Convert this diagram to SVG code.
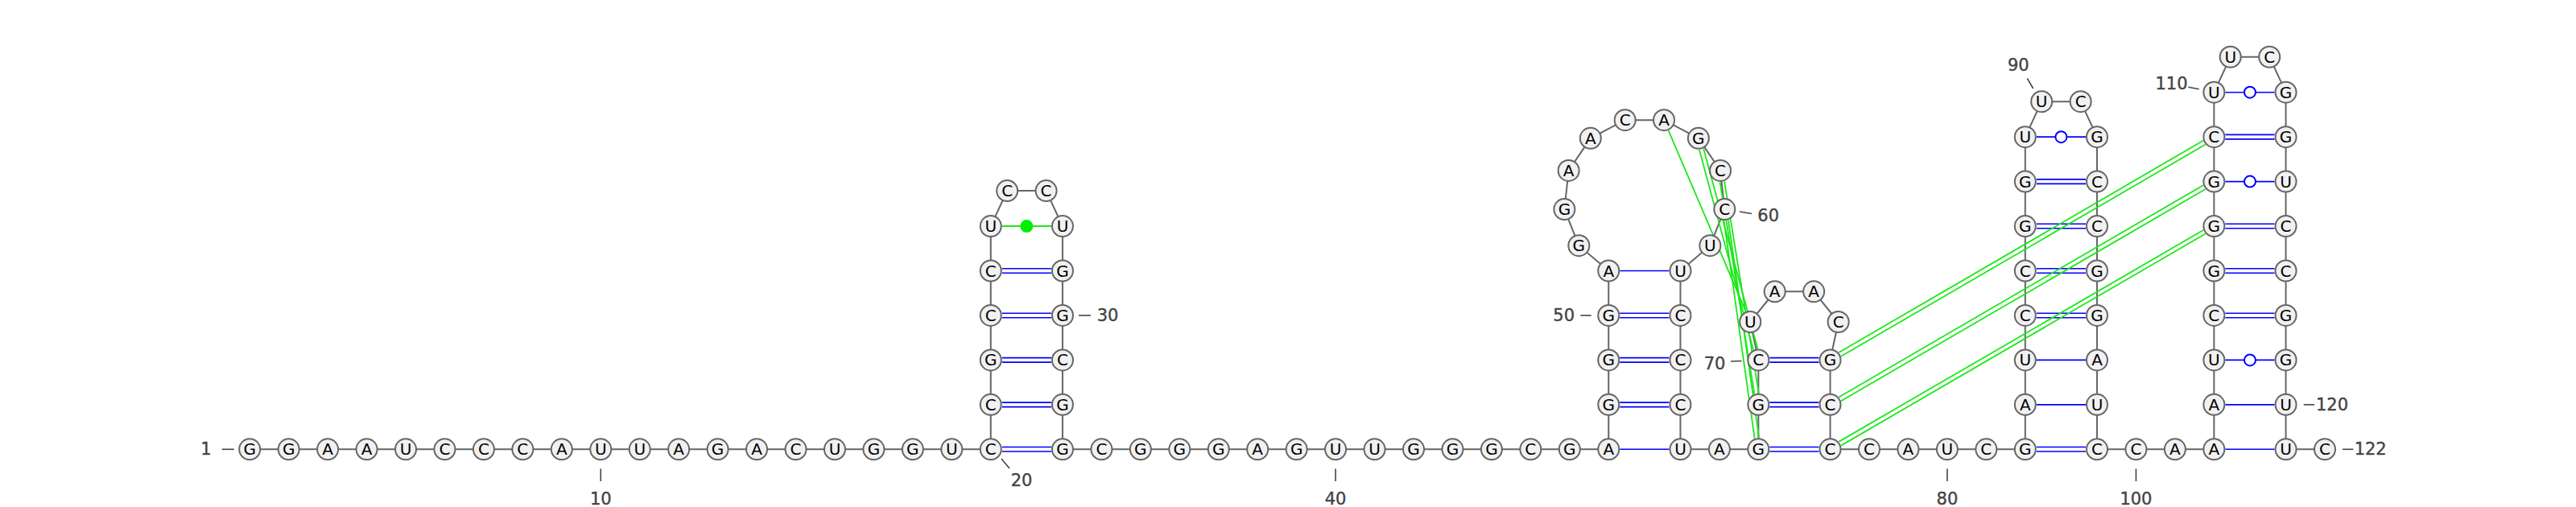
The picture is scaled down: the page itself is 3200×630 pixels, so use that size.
<svg xmlns="http://www.w3.org/2000/svg" width="3200" height="630" viewBox="0 0 3200 630">
<style>
.bb{fill:none;stroke:#666;stroke-width:2}
.bp{fill:none;stroke:#0000ff;stroke-width:1.6}
.wb{fill:#fff;stroke:#0000ff;stroke-width:2}
.tp{fill:none;stroke:#1be81b;stroke-width:1.8}
.nc{fill:#00ee00;stroke:none}
.nt circle{fill:#f1f1f1;stroke:#666;stroke-width:2}
.nt text{font-family:'DejaVu Sans',sans-serif;font-size:20px;text-anchor:middle;dominant-baseline:central;fill:#000}
.tk{stroke:#444;stroke-width:1.6}
.lb{font-family:'DejaVu Sans',sans-serif;font-size:21px;text-anchor:middle;dominant-baseline:central;fill:#444;stroke:#444;stroke-width:0.4}
</style>
<rect width="3200" height="630" fill="#fff"/>
<g id="connectors">
<polyline class="bb" points="310.2,558.3 358.65,558.3 407.1,558.3 455.55,558.3 504,558.3 552.45,558.3 600.9,558.3 649.35,558.3 697.8,558.3 746.25,558.3 794.7,558.3 843.15,558.3 891.6,558.3 940.05,558.3 988.5,558.3 1036.95,558.3 1085.4,558.3 1133.85,558.3 1182.3,558.3 1230.75,558.3 1230.75,502.85 1230.75,447.4 1230.75,391.95 1230.75,336.5 1230.75,281.05 1251.13,237.12 1299.58,237.12 1319.95,281.05 1319.95,336.5 1319.95,391.95 1319.95,447.4 1319.95,502.85 1319.95,558.3 1368.4,558.3 1416.85,558.3 1465.3,558.3 1513.75,558.3 1562.2,558.3 1610.65,558.3 1659.1,558.3 1707.55,558.3 1756,558.3 1804.45,558.3 1852.9,558.3 1901.35,558.3 1949.8,558.3 1998.25,558.3 1998.25,502.85 1998.25,447.4 1998.25,391.95 1998.25,336.5 1961.33,305.14 1943.39,260.11 1948.63,211.94 1975.83,171.84 2018.65,149.15 2067.05,149.15 2109.87,171.84 2137.07,211.94 2142.31,260.11 2124.37,305.14 2087.45,336.5 2087.45,391.95 2087.45,447.4 2087.45,502.85 2087.45,558.3 2135.9,558.3 2184.35,558.3 2184.35,502.85 2184.35,447.4 2174.24,400.02 2204.71,362.34 2253.19,362.34 2283.66,400.02 2273.55,447.4 2273.55,502.85 2273.55,558.3 2322,558.3 2370.45,558.3 2418.9,558.3 2467.35,558.3 2515.8,558.3 2515.8,502.85 2515.8,447.4 2515.8,391.95 2515.8,336.5 2515.8,281.05 2515.8,225.6 2515.8,170.15 2536.18,126.22 2584.63,126.22 2605,170.15 2605,225.6 2605,281.05 2605,336.5 2605,391.95 2605,447.4 2605,502.85 2605,558.3 2653.45,558.3 2701.9,558.3 2750.35,558.3 2750.35,502.85 2750.35,447.4 2750.35,391.95 2750.35,336.5 2750.35,281.05 2750.35,225.6 2750.35,170.15 2750.35,114.7 2770.73,70.77 2819.18,70.77 2839.55,114.7 2839.55,170.15 2839.55,225.6 2839.55,281.05 2839.55,336.5 2839.55,391.95 2839.55,447.4 2839.55,502.85 2839.55,558.3 2888,558.3"/>
<!-- stem 1 -->
<path class="bp" d="M1244.75 555.55H1305.95M1244.75 561.05H1305.95"/>
<path class="bp" d="M1244.75 500.1H1305.95M1244.75 505.6H1305.95"/>
<path class="bp" d="M1244.75 444.65H1305.95M1244.75 450.15H1305.95"/>
<path class="bp" d="M1244.75 389.2H1305.95M1244.75 394.7H1305.95"/>
<path class="bp" d="M1244.75 333.75H1305.95M1244.75 339.25H1305.95"/>
<path class="tp" d="M1244.75 281.05H1305.95" style="stroke-width:2"/>
<circle class="nc" cx="1275.35" cy="281.05" r="8"/>
<!-- stem 2 -->
<path class="bp" d="M2012.25 558.3H2073.45"/>
<path class="bp" d="M2012.25 500.1H2073.45M2012.25 505.6H2073.45"/>
<path class="bp" d="M2012.25 444.65H2073.45M2012.25 450.15H2073.45"/>
<path class="bp" d="M2012.25 389.2H2073.45M2012.25 394.7H2073.45"/>
<path class="bp" d="M2012.25 336.5H2073.45"/>
<!-- stem 3 -->
<path class="bp" d="M2198.35 555.55H2259.55M2198.35 561.05H2259.55"/>
<path class="bp" d="M2198.35 500.1H2259.55M2198.35 505.6H2259.55"/>
<path class="bp" d="M2198.35 444.65H2259.55M2198.35 450.15H2259.55"/>
<!-- stem 4 -->
<path class="bp" d="M2529.8 555.55H2591M2529.8 561.05H2591"/>
<path class="bp" d="M2529.8 502.85H2591"/>
<path class="bp" d="M2529.8 447.4H2591"/>
<path class="bp" d="M2529.8 389.2H2591M2529.8 394.7H2591"/>
<path class="bp" d="M2529.8 333.75H2591M2529.8 339.25H2591"/>
<path class="bp" d="M2529.8 278.3H2591M2529.8 283.8H2591"/>
<path class="bp" d="M2529.8 222.85H2591M2529.8 228.35H2591"/>
<path class="bp" d="M2529.8 170.15H2591"/>
<circle class="wb" cx="2560.4" cy="170.15" r="7"/>
<!-- stem 5 -->
<path class="bp" d="M2764.35 558.3H2825.55"/>
<path class="bp" d="M2764.35 502.85H2825.55"/>
<path class="bp" d="M2764.35 447.4H2825.55"/>
<circle class="wb" cx="2794.95" cy="447.4" r="7"/>
<path class="bp" d="M2764.35 389.2H2825.55M2764.35 394.7H2825.55"/>
<path class="bp" d="M2764.35 333.75H2825.55M2764.35 339.25H2825.55"/>
<path class="bp" d="M2764.35 278.3H2825.55M2764.35 283.8H2825.55"/>
<path class="bp" d="M2764.35 225.6H2825.55"/>
<circle class="wb" cx="2794.95" cy="225.6" r="7"/>
<path class="bp" d="M2764.35 167.4H2825.55M2764.35 172.9H2825.55"/>
<path class="bp" d="M2764.35 114.7H2825.55"/>
<circle class="wb" cx="2794.95" cy="114.7" r="7"/>
<!-- tertiary -->
<path class="tp" d="M2072.6 162.04L2168.74 387.14"/>
<path class="tp" d="M2116.22 184.68L2183.36 433.16M2110.91 186.12L2178.05 434.6"/>
<path class="tp" d="M2142.05 225.37L2184.82 488.59M2136.62 226.25L2179.39 489.47"/>
<path class="tp" d="M2146.99 273.64L2185.12 544.06M2141.54 274.41L2179.67 544.82"/>
<path class="tp" d="M2287.03 442.74L2739.63 179.57M2284.27 437.98L2736.87 174.81"/>
<path class="tp" d="M2287.03 498.19L2739.63 235.02M2284.27 493.43L2736.87 230.26"/>
<path class="tp" d="M2287.03 553.64L2739.63 290.47M2284.27 548.88L2736.87 286.09"/>
</g>
<g id="nodes">
<g id="n1" class="nt"><circle cx="310.2" cy="558.3" r="13"/><text x="310.2" y="558.3">G</text></g>
<g id="n2" class="nt"><circle cx="358.65" cy="558.3" r="13"/><text x="358.65" y="558.3">G</text></g>
<g id="n3" class="nt"><circle cx="407.1" cy="558.3" r="13"/><text x="407.1" y="558.3">A</text></g>
<g id="n4" class="nt"><circle cx="455.55" cy="558.3" r="13"/><text x="455.55" y="558.3">A</text></g>
<g id="n5" class="nt"><circle cx="504" cy="558.3" r="13"/><text x="504" y="558.3">U</text></g>
<g id="n6" class="nt"><circle cx="552.45" cy="558.3" r="13"/><text x="552.45" y="558.3">C</text></g>
<g id="n7" class="nt"><circle cx="600.9" cy="558.3" r="13"/><text x="600.9" y="558.3">C</text></g>
<g id="n8" class="nt"><circle cx="649.35" cy="558.3" r="13"/><text x="649.35" y="558.3">C</text></g>
<g id="n9" class="nt"><circle cx="697.8" cy="558.3" r="13"/><text x="697.8" y="558.3">A</text></g>
<g id="n10" class="nt"><circle cx="746.25" cy="558.3" r="13"/><text x="746.25" y="558.3">U</text></g>
<g id="n11" class="nt"><circle cx="794.7" cy="558.3" r="13"/><text x="794.7" y="558.3">U</text></g>
<g id="n12" class="nt"><circle cx="843.15" cy="558.3" r="13"/><text x="843.15" y="558.3">A</text></g>
<g id="n13" class="nt"><circle cx="891.6" cy="558.3" r="13"/><text x="891.6" y="558.3">G</text></g>
<g id="n14" class="nt"><circle cx="940.05" cy="558.3" r="13"/><text x="940.05" y="558.3">A</text></g>
<g id="n15" class="nt"><circle cx="988.5" cy="558.3" r="13"/><text x="988.5" y="558.3">C</text></g>
<g id="n16" class="nt"><circle cx="1036.95" cy="558.3" r="13"/><text x="1036.95" y="558.3">U</text></g>
<g id="n17" class="nt"><circle cx="1085.4" cy="558.3" r="13"/><text x="1085.4" y="558.3">G</text></g>
<g id="n18" class="nt"><circle cx="1133.85" cy="558.3" r="13"/><text x="1133.85" y="558.3">G</text></g>
<g id="n19" class="nt"><circle cx="1182.3" cy="558.3" r="13"/><text x="1182.3" y="558.3">U</text></g>
<g id="n20" class="nt"><circle cx="1230.75" cy="558.3" r="13"/><text x="1230.75" y="558.3">C</text></g>
<g id="n21" class="nt"><circle cx="1230.75" cy="502.85" r="13"/><text x="1230.75" y="502.85">C</text></g>
<g id="n22" class="nt"><circle cx="1230.75" cy="447.4" r="13"/><text x="1230.75" y="447.4">G</text></g>
<g id="n23" class="nt"><circle cx="1230.75" cy="391.95" r="13"/><text x="1230.75" y="391.95">C</text></g>
<g id="n24" class="nt"><circle cx="1230.75" cy="336.5" r="13"/><text x="1230.75" y="336.5">C</text></g>
<g id="n25" class="nt"><circle cx="1230.75" cy="281.05" r="13"/><text x="1230.75" y="281.05">U</text></g>
<g id="n26" class="nt"><circle cx="1251.13" cy="237.12" r="13"/><text x="1251.13" y="237.12">C</text></g>
<g id="n27" class="nt"><circle cx="1299.58" cy="237.12" r="13"/><text x="1299.58" y="237.12">C</text></g>
<g id="n28" class="nt"><circle cx="1319.95" cy="281.05" r="13"/><text x="1319.95" y="281.05">U</text></g>
<g id="n29" class="nt"><circle cx="1319.95" cy="336.5" r="13"/><text x="1319.95" y="336.5">G</text></g>
<g id="n30" class="nt"><circle cx="1319.95" cy="391.95" r="13"/><text x="1319.95" y="391.95">G</text></g>
<g id="n31" class="nt"><circle cx="1319.95" cy="447.4" r="13"/><text x="1319.95" y="447.4">C</text></g>
<g id="n32" class="nt"><circle cx="1319.95" cy="502.85" r="13"/><text x="1319.95" y="502.85">G</text></g>
<g id="n33" class="nt"><circle cx="1319.95" cy="558.3" r="13"/><text x="1319.95" y="558.3">G</text></g>
<g id="n34" class="nt"><circle cx="1368.4" cy="558.3" r="13"/><text x="1368.4" y="558.3">C</text></g>
<g id="n35" class="nt"><circle cx="1416.85" cy="558.3" r="13"/><text x="1416.85" y="558.3">G</text></g>
<g id="n36" class="nt"><circle cx="1465.3" cy="558.3" r="13"/><text x="1465.3" y="558.3">G</text></g>
<g id="n37" class="nt"><circle cx="1513.75" cy="558.3" r="13"/><text x="1513.75" y="558.3">G</text></g>
<g id="n38" class="nt"><circle cx="1562.2" cy="558.3" r="13"/><text x="1562.2" y="558.3">A</text></g>
<g id="n39" class="nt"><circle cx="1610.65" cy="558.3" r="13"/><text x="1610.65" y="558.3">G</text></g>
<g id="n40" class="nt"><circle cx="1659.1" cy="558.3" r="13"/><text x="1659.1" y="558.3">U</text></g>
<g id="n41" class="nt"><circle cx="1707.55" cy="558.3" r="13"/><text x="1707.55" y="558.3">U</text></g>
<g id="n42" class="nt"><circle cx="1756" cy="558.3" r="13"/><text x="1756" y="558.3">G</text></g>
<g id="n43" class="nt"><circle cx="1804.45" cy="558.3" r="13"/><text x="1804.45" y="558.3">G</text></g>
<g id="n44" class="nt"><circle cx="1852.9" cy="558.3" r="13"/><text x="1852.9" y="558.3">G</text></g>
<g id="n45" class="nt"><circle cx="1901.35" cy="558.3" r="13"/><text x="1901.35" y="558.3">C</text></g>
<g id="n46" class="nt"><circle cx="1949.8" cy="558.3" r="13"/><text x="1949.8" y="558.3">G</text></g>
<g id="n47" class="nt"><circle cx="1998.25" cy="558.3" r="13"/><text x="1998.25" y="558.3">A</text></g>
<g id="n48" class="nt"><circle cx="1998.25" cy="502.85" r="13"/><text x="1998.25" y="502.85">G</text></g>
<g id="n49" class="nt"><circle cx="1998.25" cy="447.4" r="13"/><text x="1998.25" y="447.4">G</text></g>
<g id="n50" class="nt"><circle cx="1998.25" cy="391.95" r="13"/><text x="1998.25" y="391.95">G</text></g>
<g id="n51" class="nt"><circle cx="1998.25" cy="336.5" r="13"/><text x="1998.25" y="336.5">A</text></g>
<g id="n52" class="nt"><circle cx="1961.33" cy="305.14" r="13"/><text x="1961.33" y="305.14">G</text></g>
<g id="n53" class="nt"><circle cx="1943.39" cy="260.11" r="13"/><text x="1943.39" y="260.11">G</text></g>
<g id="n54" class="nt"><circle cx="1948.63" cy="211.94" r="13"/><text x="1948.63" y="211.94">A</text></g>
<g id="n55" class="nt"><circle cx="1975.83" cy="171.84" r="13"/><text x="1975.83" y="171.84">A</text></g>
<g id="n56" class="nt"><circle cx="2018.65" cy="149.15" r="13"/><text x="2018.65" y="149.15">C</text></g>
<g id="n57" class="nt"><circle cx="2067.05" cy="149.15" r="13"/><text x="2067.05" y="149.15">A</text></g>
<g id="n58" class="nt"><circle cx="2109.87" cy="171.84" r="13"/><text x="2109.87" y="171.84">G</text></g>
<g id="n59" class="nt"><circle cx="2137.07" cy="211.94" r="13"/><text x="2137.07" y="211.94">C</text></g>
<g id="n60" class="nt"><circle cx="2142.31" cy="260.11" r="13"/><text x="2142.31" y="260.11">C</text></g>
<g id="n61" class="nt"><circle cx="2124.37" cy="305.14" r="13"/><text x="2124.37" y="305.14">U</text></g>
<g id="n62" class="nt"><circle cx="2087.45" cy="336.5" r="13"/><text x="2087.45" y="336.5">U</text></g>
<g id="n63" class="nt"><circle cx="2087.45" cy="391.95" r="13"/><text x="2087.45" y="391.95">C</text></g>
<g id="n64" class="nt"><circle cx="2087.45" cy="447.4" r="13"/><text x="2087.45" y="447.4">C</text></g>
<g id="n65" class="nt"><circle cx="2087.45" cy="502.85" r="13"/><text x="2087.45" y="502.85">C</text></g>
<g id="n66" class="nt"><circle cx="2087.45" cy="558.3" r="13"/><text x="2087.45" y="558.3">U</text></g>
<g id="n67" class="nt"><circle cx="2135.9" cy="558.3" r="13"/><text x="2135.9" y="558.3">A</text></g>
<g id="n68" class="nt"><circle cx="2184.35" cy="558.3" r="13"/><text x="2184.35" y="558.3">G</text></g>
<g id="n69" class="nt"><circle cx="2184.35" cy="502.85" r="13"/><text x="2184.35" y="502.85">G</text></g>
<g id="n70" class="nt"><circle cx="2184.35" cy="447.4" r="13"/><text x="2184.35" y="447.4">C</text></g>
<g id="n71" class="nt"><circle cx="2174.24" cy="400.02" r="13"/><text x="2174.24" y="400.02">U</text></g>
<g id="n72" class="nt"><circle cx="2204.71" cy="362.34" r="13"/><text x="2204.71" y="362.34">A</text></g>
<g id="n73" class="nt"><circle cx="2253.19" cy="362.34" r="13"/><text x="2253.19" y="362.34">A</text></g>
<g id="n74" class="nt"><circle cx="2283.66" cy="400.02" r="13"/><text x="2283.66" y="400.02">C</text></g>
<g id="n75" class="nt"><circle cx="2273.55" cy="447.4" r="13"/><text x="2273.55" y="447.4">G</text></g>
<g id="n76" class="nt"><circle cx="2273.55" cy="502.85" r="13"/><text x="2273.55" y="502.85">C</text></g>
<g id="n77" class="nt"><circle cx="2273.55" cy="558.3" r="13"/><text x="2273.55" y="558.3">C</text></g>
<g id="n78" class="nt"><circle cx="2322" cy="558.3" r="13"/><text x="2322" y="558.3">C</text></g>
<g id="n79" class="nt"><circle cx="2370.45" cy="558.3" r="13"/><text x="2370.45" y="558.3">A</text></g>
<g id="n80" class="nt"><circle cx="2418.9" cy="558.3" r="13"/><text x="2418.9" y="558.3">U</text></g>
<g id="n81" class="nt"><circle cx="2467.35" cy="558.3" r="13"/><text x="2467.35" y="558.3">C</text></g>
<g id="n82" class="nt"><circle cx="2515.8" cy="558.3" r="13"/><text x="2515.8" y="558.3">G</text></g>
<g id="n83" class="nt"><circle cx="2515.8" cy="502.85" r="13"/><text x="2515.8" y="502.85">A</text></g>
<g id="n84" class="nt"><circle cx="2515.8" cy="447.4" r="13"/><text x="2515.8" y="447.4">U</text></g>
<g id="n85" class="nt"><circle cx="2515.8" cy="391.95" r="13"/><text x="2515.8" y="391.95">C</text></g>
<g id="n86" class="nt"><circle cx="2515.8" cy="336.5" r="13"/><text x="2515.8" y="336.5">C</text></g>
<g id="n87" class="nt"><circle cx="2515.8" cy="281.05" r="13"/><text x="2515.8" y="281.05">G</text></g>
<g id="n88" class="nt"><circle cx="2515.8" cy="225.6" r="13"/><text x="2515.8" y="225.6">G</text></g>
<g id="n89" class="nt"><circle cx="2515.8" cy="170.15" r="13"/><text x="2515.8" y="170.15">U</text></g>
<g id="n90" class="nt"><circle cx="2536.18" cy="126.22" r="13"/><text x="2536.18" y="126.22">U</text></g>
<g id="n91" class="nt"><circle cx="2584.63" cy="126.22" r="13"/><text x="2584.63" y="126.22">C</text></g>
<g id="n92" class="nt"><circle cx="2605" cy="170.15" r="13"/><text x="2605" y="170.15">G</text></g>
<g id="n93" class="nt"><circle cx="2605" cy="225.6" r="13"/><text x="2605" y="225.6">C</text></g>
<g id="n94" class="nt"><circle cx="2605" cy="281.05" r="13"/><text x="2605" y="281.05">C</text></g>
<g id="n95" class="nt"><circle cx="2605" cy="336.5" r="13"/><text x="2605" y="336.5">G</text></g>
<g id="n96" class="nt"><circle cx="2605" cy="391.95" r="13"/><text x="2605" y="391.95">G</text></g>
<g id="n97" class="nt"><circle cx="2605" cy="447.4" r="13"/><text x="2605" y="447.4">A</text></g>
<g id="n98" class="nt"><circle cx="2605" cy="502.85" r="13"/><text x="2605" y="502.85">U</text></g>
<g id="n99" class="nt"><circle cx="2605" cy="558.3" r="13"/><text x="2605" y="558.3">C</text></g>
<g id="n100" class="nt"><circle cx="2653.45" cy="558.3" r="13"/><text x="2653.45" y="558.3">C</text></g>
<g id="n101" class="nt"><circle cx="2701.9" cy="558.3" r="13"/><text x="2701.9" y="558.3">A</text></g>
<g id="n102" class="nt"><circle cx="2750.35" cy="558.3" r="13"/><text x="2750.35" y="558.3">A</text></g>
<g id="n103" class="nt"><circle cx="2750.35" cy="502.85" r="13"/><text x="2750.35" y="502.85">A</text></g>
<g id="n104" class="nt"><circle cx="2750.35" cy="447.4" r="13"/><text x="2750.35" y="447.4">U</text></g>
<g id="n105" class="nt"><circle cx="2750.35" cy="391.95" r="13"/><text x="2750.35" y="391.95">C</text></g>
<g id="n106" class="nt"><circle cx="2750.35" cy="336.5" r="13"/><text x="2750.35" y="336.5">G</text></g>
<g id="n107" class="nt"><circle cx="2750.35" cy="281.05" r="13"/><text x="2750.35" y="281.05">G</text></g>
<g id="n108" class="nt"><circle cx="2750.35" cy="225.6" r="13"/><text x="2750.35" y="225.6">G</text></g>
<g id="n109" class="nt"><circle cx="2750.35" cy="170.15" r="13"/><text x="2750.35" y="170.15">C</text></g>
<g id="n110" class="nt"><circle cx="2750.35" cy="114.7" r="13"/><text x="2750.35" y="114.7">U</text></g>
<g id="n111" class="nt"><circle cx="2770.73" cy="70.77" r="13"/><text x="2770.73" y="70.77">U</text></g>
<g id="n112" class="nt"><circle cx="2819.18" cy="70.77" r="13"/><text x="2819.18" y="70.77">C</text></g>
<g id="n113" class="nt"><circle cx="2839.55" cy="114.7" r="13"/><text x="2839.55" y="114.7">G</text></g>
<g id="n114" class="nt"><circle cx="2839.55" cy="170.15" r="13"/><text x="2839.55" y="170.15">G</text></g>
<g id="n115" class="nt"><circle cx="2839.55" cy="225.6" r="13"/><text x="2839.55" y="225.6">U</text></g>
<g id="n116" class="nt"><circle cx="2839.55" cy="281.05" r="13"/><text x="2839.55" y="281.05">C</text></g>
<g id="n117" class="nt"><circle cx="2839.55" cy="336.5" r="13"/><text x="2839.55" y="336.5">C</text></g>
<g id="n118" class="nt"><circle cx="2839.55" cy="391.95" r="13"/><text x="2839.55" y="391.95">G</text></g>
<g id="n119" class="nt"><circle cx="2839.55" cy="447.4" r="13"/><text x="2839.55" y="447.4">G</text></g>
<g id="n120" class="nt"><circle cx="2839.55" cy="502.85" r="13"/><text x="2839.55" y="502.85">U</text></g>
<g id="n121" class="nt"><circle cx="2839.55" cy="558.3" r="13"/><text x="2839.55" y="558.3">U</text></g>
<g id="n122" class="nt"><circle cx="2888" cy="558.3" r="13"/><text x="2888" y="558.3">C</text></g>
</g>
<g id="labels">
<line class="tk" x1="275.7" y1="558.3" x2="290.7" y2="558.3"/><text class="lb" x="256" y="558.3">1</text>
<line class="tk" x1="746.25" y1="582.5" x2="746.25" y2="598"/><text class="lb" x="746.25" y="620">10</text>
<line class="tk" x1="1244" y1="570" x2="1254" y2="582"/><text class="lb" x="1269" y="597">20</text>
<line class="tk" x1="1340" y1="391.95" x2="1355" y2="391.95"/><text class="lb" x="1376" y="392">30</text>
<line class="tk" x1="1659.1" y1="582.5" x2="1659.1" y2="598"/><text class="lb" x="1659.1" y="620">40</text>
<line class="tk" x1="1963.3" y1="391.95" x2="1976.7" y2="391.95"/><text class="lb" x="1942.7" y="392">50</text>
<line class="tk" x1="2161" y1="263" x2="2176" y2="265.5"/><text class="lb" x="2196.7" y="268">60</text>
<line class="tk" x1="2150" y1="449" x2="2163.5" y2="448.5"/><text class="lb" x="2130" y="452">70</text>
<line class="tk" x1="2418.9" y1="582.5" x2="2418.9" y2="598"/><text class="lb" x="2418.9" y="620">80</text>
<line class="tk" x1="2518.3" y1="97.3" x2="2525.7" y2="110"/><text class="lb" x="2507.3" y="80.7">90</text>
<line class="tk" x1="2653.45" y1="582.5" x2="2653.45" y2="598"/><text class="lb" x="2653.45" y="620">100</text>
<line class="tk" x1="2718.3" y1="108.3" x2="2731.7" y2="110.7"/><text class="lb" x="2697.5" y="104">110</text>
<line class="tk" x1="2861.7" y1="502.85" x2="2875" y2="502.85"/><text class="lb" x="2897" y="502.85">120</text>
<line class="tk" x1="2910" y1="558.3" x2="2923.3" y2="558.3"/><text class="lb" x="2944.7" y="558.3">122</text>
</g>
</svg>
